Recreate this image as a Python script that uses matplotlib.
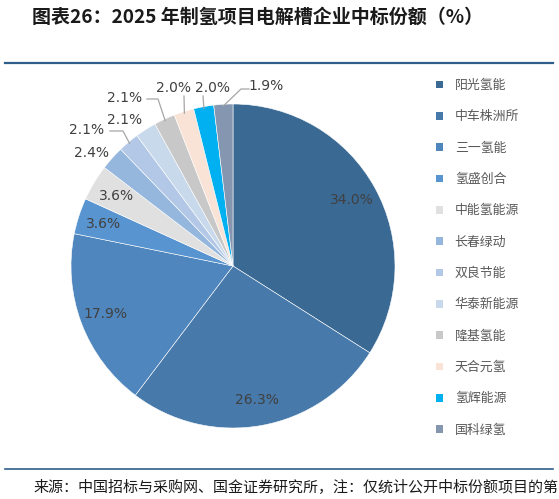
import numpy as np
import matplotlib
matplotlib.use("Agg")
import matplotlib.pyplot as plt
from matplotlib.patches import Rectangle
from matplotlib.lines import Line2D

plt.rcParams['font.family'] = ['Noto Sans CJK SC', 'DejaVu Sans']

companies = ['阳光氢能', '中车株洲所', '三一氢能', '氢盛创合', '中能氢能源', '长春绿动',
             '双良节能', '华泰新能源', '隆基氢能', '天合元氢', '氢辉能源', '国科绿氢']
shares = [34.0, 26.3, 17.9, 3.6, 3.6, 2.4, 2.1, 2.1, 2.1, 2.0, 2.0, 1.9]
colors = ['#3A6A94', '#4779AA', '#4F86BD', '#5894CF', '#E0E0E0', '#95B7DD',
          '#B3C8E6', '#C9D9EC', '#C8C8C8', '#F8E3D6', '#00B0F0', '#8496B0']

title = '图表26：2025 年制氢项目电解槽企业中标份额（%）'
source = '来源：中国招标与采购网、国金证券研究所，注：仅统计公开中标份额项目的第'

W, H = 559, 499
fig = plt.figure(figsize=(W / 100, H / 100), dpi=100)

# pie geometry (pixels)
cx, cy, R = 233, 266, 162
ax = fig.add_axes([(cx - R) / W, (H - cy - R) / H, 2 * R / W, 2 * R / H])

wedges, _ = ax.pie(shares, colors=colors, startangle=90, counterclock=False, radius=1,
                   wedgeprops=dict(edgecolor='white', linewidth=0.4))
ax.set_xlim(-1, 1)
ax.set_ylim(-1, 1)
ax.set_aspect('equal')
ax.axis('off')

def px(x, y):
    return ((x - cx) / R, (cy - y) / R)

lab_color = '#404040'
line_color = '#A6A6A6'

out_layout = {
    5: ((91, 153), None),
    6: ((87, 130), [(110, 131), (123, 131)]),
    7: ((125, 120), None),
    8: ((125, 98), [(147, 99), (158, 99)]),
    9: ((173, 88), [(184, 96)]),
    10: ((212, 88), [(203, 96)]),
    11: ((266, 86), [(249, 89), (241, 89)]),
}

cum = 0.0
for i, v in enumerate(shares):
    mid = 90 - (cum + v / 2) * 3.6
    cum += v
    a = np.deg2rad(mid)
    txt = f'{v:.1f}%'
    if i in out_layout:
        tpos, poly = out_layout[i]
        tx, ty = px(*tpos)
        ax.text(tx, ty, txt, ha='center', va='center', fontsize=10,
                color=lab_color, family=['DejaVu Sans'])
        if poly:
            ex, ey = np.cos(a), np.sin(a)
            pts = [px(*p) for p in poly]
            xs = [p[0] for p in pts] + [ex * 0.99]
            ys = [p[1] for p in pts] + [ey * 0.99]
            ax.plot(xs, ys, color=line_color, lw=0.9, clip_on=False)
    else:
        r = 0.84
        ax.text(r * np.cos(a), r * np.sin(a), txt, ha='center', va='center',
                fontsize=10, color=lab_color, family=['DejaVu Sans'])

# legend
handles = [Rectangle((0, 0), 1, 1, facecolor=c, edgecolor='none') for c in colors]
leg = fig.legend(handles, companies, loc='upper left',
                 bbox_to_anchor=(436 / W, 1 - 79 / H), frameon=False,
                 fontsize=9.3, labelspacing=1.42, handlelength=0.55, handleheight=0.55,
                 handletextpad=0.9, borderaxespad=0, borderpad=0)
for t in leg.get_texts():
    t.set_color('#595959')

# title and rules
fig.text(32 / W, 1 - 17 / H, title, ha='left', va='center', fontsize=13.7,
         fontweight='bold', style='italic', color='#1a1a1a')
fig.add_artist(Line2D([5 / W, 553 / W], [1 - 63 / H, 1 - 63 / H], color='#2E5F8A', lw=1.6))
fig.add_artist(Line2D([5 / W, 553 / W], [1 - 469 / H, 1 - 469 / H], color='#2E5F8A', lw=1.2))
fig.text(33 / W, 1 - 487 / H, source, ha='left', va='center', fontsize=10.8, color='#1a1a1a')

fig.savefig('out.png', dpi=100, facecolor='white')
